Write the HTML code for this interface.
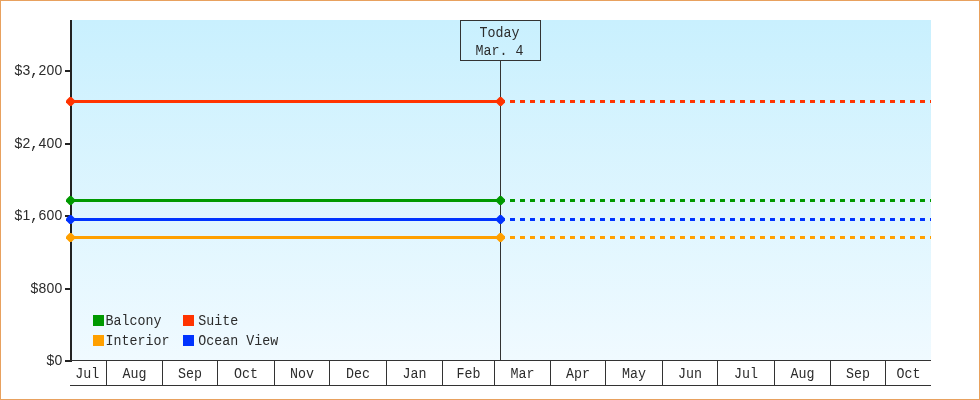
<!DOCTYPE html>
<html lang="en">
<head>
<meta charset="utf-8">
<title>Price chart</title>
<style>
html,body{margin:0;padding:0;background:#fff;}
body{width:980px;height:400px;overflow:hidden;position:relative;}
#frame{position:absolute;left:0;top:0;width:978px;height:398px;border:1px solid #e8a15e;background:#fff;}
svg{position:absolute;left:0;top:0;}
text.num{font-family:"Liberation Sans","DejaVu Sans",sans-serif;font-size:14px;}
tspan.mono{font-family:"Liberation Mono",monospace;font-size:15px;}
text{font-family:"Liberation Mono", "DejaVu Sans Mono", monospace;font-size:15px;letter-spacing:0px;fill:#2c2c2c;}
</style>
</head>
<body>
<div id="frame"></div>
<svg width="980" height="400" viewBox="0 0 980 400">
<defs>
<linearGradient id="bg" x1="0" y1="0" x2="0" y2="1">
<stop offset="0" stop-color="#c9f0fe"/>
<stop offset="1" stop-color="#f0faff"/>
</linearGradient>
<clipPath id="plotclip"><rect x="66" y="20" width="865" height="341"/></clipPath>
</defs>
<rect x="72" y="20" width="859" height="340" fill="url(#bg)"/>
<rect x="70" y="20" width="2" height="342" fill="#222"/>
<rect x="65" y="70" width="5" height="2" fill="#222"/>
<text class="num" x="18.5 26.5 34.5 42.5 50.5 58.5" y="75" text-anchor="middle">$3<tspan class="mono">,</tspan>200</text>
<rect x="65" y="143" width="5" height="2" fill="#222"/>
<text class="num" x="18.5 26.5 34.5 42.5 50.5 58.5" y="148" text-anchor="middle">$2<tspan class="mono">,</tspan>400</text>
<rect x="65" y="215" width="5" height="2" fill="#222"/>
<text class="num" x="18.5 26.5 34.5 42.5 50.5 58.5" y="220" text-anchor="middle">$1<tspan class="mono">,</tspan>600</text>
<rect x="65" y="288" width="5" height="2" fill="#222"/>
<text class="num" x="34.5 42.5 50.5 58.5" y="293" text-anchor="middle">$800</text>
<rect x="65" y="360" width="5" height="2" fill="#222"/>
<text class="num" x="50.5 58.5" y="365" text-anchor="middle">$0</text>
<rect x="70" y="360" width="861" height="1" fill="#333"/>
<rect x="70" y="385" width="861" height="1" fill="#333"/>
<rect x="106" y="360" width="1" height="26" fill="#333"/>
<rect x="162" y="360" width="1" height="26" fill="#333"/>
<rect x="217" y="360" width="1" height="26" fill="#333"/>
<rect x="274" y="360" width="1" height="26" fill="#333"/>
<rect x="329" y="360" width="1" height="26" fill="#333"/>
<rect x="386" y="360" width="1" height="26" fill="#333"/>
<rect x="442" y="360" width="1" height="26" fill="#333"/>
<rect x="494" y="360" width="1" height="26" fill="#333"/>
<rect x="550" y="360" width="1" height="26" fill="#333"/>
<rect x="605" y="360" width="1" height="26" fill="#333"/>
<rect x="662" y="360" width="1" height="26" fill="#333"/>
<rect x="717" y="360" width="1" height="26" fill="#333"/>
<rect x="774" y="360" width="1" height="26" fill="#333"/>
<rect x="830" y="360" width="1" height="26" fill="#333"/>
<rect x="885" y="360" width="1" height="26" fill="#333"/>
<text transform="translate(87.3,378) scale(0.889,1)" text-anchor="middle">Jul</text>
<text transform="translate(134.5,378) scale(0.889,1)" text-anchor="middle">Aug</text>
<text transform="translate(190.0,378) scale(0.889,1)" text-anchor="middle">Sep</text>
<text transform="translate(246.0,378) scale(0.889,1)" text-anchor="middle">Oct</text>
<text transform="translate(302.0,378) scale(0.889,1)" text-anchor="middle">Nov</text>
<text transform="translate(358.0,378) scale(0.889,1)" text-anchor="middle">Dec</text>
<text transform="translate(414.5,378) scale(0.889,1)" text-anchor="middle">Jan</text>
<text transform="translate(468.5,378) scale(0.889,1)" text-anchor="middle">Feb</text>
<text transform="translate(522.5,378) scale(0.889,1)" text-anchor="middle">Mar</text>
<text transform="translate(578.0,378) scale(0.889,1)" text-anchor="middle">Apr</text>
<text transform="translate(634.0,378) scale(0.889,1)" text-anchor="middle">May</text>
<text transform="translate(690.0,378) scale(0.889,1)" text-anchor="middle">Jun</text>
<text transform="translate(746.0,378) scale(0.889,1)" text-anchor="middle">Jul</text>
<text transform="translate(802.5,378) scale(0.889,1)" text-anchor="middle">Aug</text>
<text transform="translate(858.0,378) scale(0.889,1)" text-anchor="middle">Sep</text>
<text transform="translate(908.5,378) scale(0.889,1)" text-anchor="middle">Oct</text>
<rect x="500" y="60" width="1" height="300" fill="#333"/>
<rect x="460.5" y="20.5" width="80" height="40" fill="none" stroke="#333" stroke-width="1"/>
<text transform="translate(499.6,37) scale(0.889,1)" text-anchor="middle">Today</text>
<text transform="translate(499.6,55) scale(0.889,1)" text-anchor="middle">Mar. 4</text>
<g clip-path="url(#plotclip)">
<line x1="70" y1="101.5" x2="500" y2="101.5" stroke="#ff3300" stroke-width="3"/>
<line x1="500" y1="101.5" x2="940" y2="101.5" stroke="#ff3300" stroke-width="3" stroke-dasharray="5 5"/>
<line x1="70" y1="200.5" x2="500" y2="200.5" stroke="#009900" stroke-width="3"/>
<line x1="500" y1="200.5" x2="940" y2="200.5" stroke="#009900" stroke-width="3" stroke-dasharray="5 5"/>
<line x1="70" y1="219.5" x2="500" y2="219.5" stroke="#0033ff" stroke-width="3"/>
<line x1="500" y1="219.5" x2="940" y2="219.5" stroke="#0033ff" stroke-width="3" stroke-dasharray="5 5"/>
<line x1="70" y1="237.5" x2="500" y2="237.5" stroke="#ffa000" stroke-width="3"/>
<line x1="500" y1="237.5" x2="940" y2="237.5" stroke="#ffa000" stroke-width="3" stroke-dasharray="5 5"/>
</g>
<polygon points="69.5,97.0 71.5,97.0 75.0,100.5 75.0,102.5 71.5,106.0 69.5,106.0 66.0,102.5 66.0,100.5" fill="#ff3300"/>
<polygon points="499.5,97.0 501.5,97.0 505.0,100.5 505.0,102.5 501.5,106.0 499.5,106.0 496.0,102.5 496.0,100.5" fill="#ff3300"/>
<polygon points="69.5,196.0 71.5,196.0 75.0,199.5 75.0,201.5 71.5,205.0 69.5,205.0 66.0,201.5 66.0,199.5" fill="#009900"/>
<polygon points="499.5,196.0 501.5,196.0 505.0,199.5 505.0,201.5 501.5,205.0 499.5,205.0 496.0,201.5 496.0,199.5" fill="#009900"/>
<polygon points="69.5,215.0 71.5,215.0 75.0,218.5 75.0,220.5 71.5,224.0 69.5,224.0 66.0,220.5 66.0,218.5" fill="#0033ff"/>
<polygon points="499.5,215.0 501.5,215.0 505.0,218.5 505.0,220.5 501.5,224.0 499.5,224.0 496.0,220.5 496.0,218.5" fill="#0033ff"/>
<polygon points="69.5,233.0 71.5,233.0 75.0,236.5 75.0,238.5 71.5,242.0 69.5,242.0 66.0,238.5 66.0,236.5" fill="#ffa000"/>
<polygon points="499.5,233.0 501.5,233.0 505.0,236.5 505.0,238.5 501.5,242.0 499.5,242.0 496.0,238.5 496.0,236.5" fill="#ffa000"/>
<rect x="93" y="315" width="11" height="11" fill="#009900"/>
<text transform="translate(105.5,325) scale(0.889,1)" text-anchor="start">Balcony</text>
<rect x="183" y="315" width="11" height="11" fill="#ff3300"/>
<text transform="translate(198.2,325) scale(0.889,1)" text-anchor="start">Suite</text>
<rect x="93" y="335" width="11" height="11" fill="#ffa000"/>
<text transform="translate(105.5,345) scale(0.889,1)" text-anchor="start">Interior</text>
<rect x="183" y="335" width="11" height="11" fill="#0033ff"/>
<text transform="translate(198.2,345) scale(0.889,1)" text-anchor="start">Ocean View</text>
</svg>
</body>
</html>
